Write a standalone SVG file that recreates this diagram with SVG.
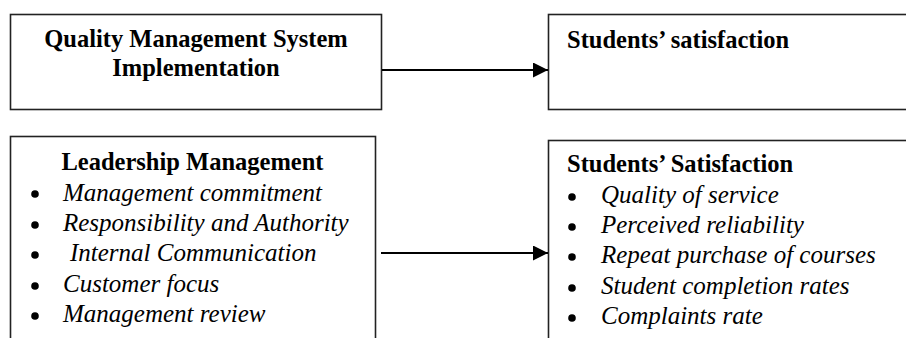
<svg xmlns="http://www.w3.org/2000/svg" width="906" height="338" viewBox="0 0 906 338">
<defs>
<style>
.box{fill:#fff;stroke:#222;stroke-width:1.6}
.t{font-family:"Liberation Serif","Times New Roman",serif;font-size:24.5px;fill:#000}
.b{font-weight:bold}
.i{font-style:italic;font-size:25px}
.dot{fill:#000}
.conn{stroke:#000;stroke-width:2.2;fill:none}
</style>
<marker id="ah" markerWidth="16" markerHeight="16" refX="15" refY="7.5" orient="auto" markerUnits="userSpaceOnUse">
<path d="M0,0 L15,7.5 L0,15 Z" fill="#000"/>
</marker>
</defs>
<rect width="906" height="338" fill="#fff"/>
<g id="qms">
<rect class="box" x="10.5" y="14.5" width="371" height="95"/>
<text class="t b" x="196" y="47" text-anchor="middle">Quality Management System</text>
<text class="t b" x="196" y="76" text-anchor="middle">Implementation</text>
</g>
<g id="sat1">
<rect class="box" x="548.5" y="14.5" width="370" height="95"/>
<text class="t b" x="567" y="48">Students’ satisfaction</text>
</g>
<g id="lead">
<rect class="box" x="10.5" y="136.5" width="365" height="220"/>
<text class="t b" x="192.5" y="170" text-anchor="middle">Leadership Management</text>
<circle class="dot" cx="35" cy="194" r="3.8"/><text class="t i" x="63" y="201">Management commitment</text>
<circle class="dot" cx="35" cy="225" r="3.8"/><text class="t i" x="63" y="231">Responsibility and Authority</text>
<circle class="dot" cx="35" cy="255" r="3.8"/><text class="t i" x="70" y="261">Internal Communication</text>
<circle class="dot" cx="35" cy="286" r="3.8"/><text class="t i" x="63" y="292">Customer focus</text>
<circle class="dot" cx="35" cy="316" r="3.8"/><text class="t i" x="63" y="322">Management review</text>
</g>
<g id="sat2">
<rect class="box" x="548.5" y="140.5" width="370" height="220"/>
<text class="t b" x="567" y="172">Students’ Satisfaction</text>
<circle class="dot" cx="572" cy="197" r="3.8"/><text class="t i" x="601" y="203">Quality of service</text>
<circle class="dot" cx="572" cy="227" r="3.8"/><text class="t i" x="601" y="233">Perceived reliability</text>
<circle class="dot" cx="572" cy="257" r="3.8"/><text class="t i" x="601" y="263">Repeat purchase of courses</text>
<circle class="dot" cx="572" cy="288" r="3.8"/><text class="t i" x="601" y="294">Student completion rates</text>
<circle class="dot" cx="572" cy="318" r="3.8"/><text class="t i" x="601" y="324">Complaints rate</text>
</g>
<g id="connectors">
<line class="conn" x1="382" y1="70" x2="548" y2="70" marker-end="url(#ah)"/>
<line class="conn" x1="381" y1="253" x2="548" y2="253" marker-end="url(#ah)"/>
</g>
</svg>
